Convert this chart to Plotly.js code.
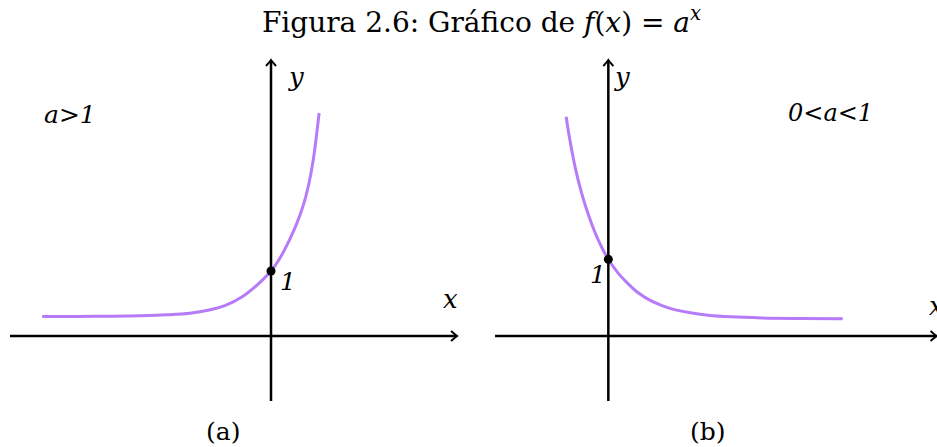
<!DOCTYPE html>
<html>
<head>
<meta charset="utf-8">
<script src="https://cdn.plot.ly/plotly-3.0.1.min.js"></script>
<style>html,body{margin:0;padding:0;background:#fff}</style>
</head>
<body>
<div id="chart" style="width:937px;height:447px"></div>
<script>
// Panel (a): a > 1, increasing curve
const growthX = [-3.52, -3.0, -2.5, -2.0, -1.6, -1.25, -0.95, -0.7, -0.45, -0.22, 0, 0.15, 0.29, 0.40, 0.50, 0.58, 0.65, 0.74];
const growthY = [0.30, 0.301, 0.303, 0.31, 0.325, 0.35, 0.40, 0.47, 0.60, 0.78, 1.0, 1.22, 1.49, 1.74, 2.02, 2.33, 2.71, 3.43];
// Panel (b): 0 < a < 1, decreasing curve
const decayX = [-0.55, -0.50, -0.43, -0.35, -0.26, -0.17, -0.08, 0, 0.12, 0.24, 0.38, 0.54, 0.70, 0.85, 1.05, 1.3, 1.6, 2.0, 2.5, 3.056];
const decayY = [2.86, 2.55, 2.19, 1.87, 1.58, 1.34, 1.145, 1.0, 0.83, 0.70, 0.57, 0.468, 0.397, 0.347, 0.306, 0.272, 0.25, 0.236, 0.229, 0.226];
// the marked point (0, 1) on each curve
const markX = [0];
const markY = [1];
const caseLabels = ['<i>a&gt;1</i>', '<i>0&lt;a&lt;1</i>'];
const panelTags = ['(a)', '(b)'];
const titleText = 'Figura 2.6: Gráfico de <i>f</i>(<i>x</i>) = <i>a</i><sup><i>x</i></sup>';

const W = 937, H = 447;
const curveColor = '#b67bf9';
const serif = 'DejaVu Serif';

const traces = [
  {x: growthX, y: growthY, xaxis: 'x', yaxis: 'y', mode: 'lines',
   line: {color: curveColor, width: 3, shape: 'spline', smoothing: 1}, hoverinfo: 'skip'},
  {x: decayX, y: decayY, xaxis: 'x2', yaxis: 'y2', mode: 'lines',
   line: {color: curveColor, width: 3, shape: 'spline', smoothing: 1}, hoverinfo: 'skip'},
  {x: markX, y: markY, xaxis: 'x', yaxis: 'y', mode: 'markers',
   marker: {color: '#000', size: 9}, hoverinfo: 'skip'},
  {x: markX, y: markY, xaxis: 'x2', yaxis: 'y2', mode: 'markers',
   marker: {color: '#000', size: 9}, hoverinfo: 'skip'}
];

const axLine = {color: '#000', width: 2.5};
const headLine = {color: '#000', width: 2};
const rightHead = 'M-6,5 Q-1.5,1 0,0 Q-1.5,-1 -6,-5';
const upHead = 'M-5,-6 Q-1,-1.5 0,0 Q1,-1.5 5,-6';

function arrowHead(xr, yr, x, y, path) {
  return {type: 'path', xref: xr, yref: yr, xsizemode: 'pixel', ysizemode: 'pixel',
          xanchor: x, yanchor: y, path: path, line: headLine};
}

const shapes = [
  // panel (a) axes
  {type: 'line', xref: 'x', yref: 'y', x0: -4.015, x1: 2.862, y0: 0, y1: 0, line: axLine},
  {type: 'line', xref: 'x', yref: 'y', x0: 0, x1: 0, y0: -1.0, y1: 4.246, line: axLine},
  arrowHead('x', 'y', 2.862, 0, rightHead),
  arrowHead('x', 'y', 0, 4.246, upHead),
  // panel (b) axes
  {type: 'line', xref: 'x2', yref: 'y2', x0: -1.477, x1: 4.279, y0: 0, y1: 0, line: axLine},
  {type: 'line', xref: 'x2', yref: 'y2', x0: 0, x1: 0, y0: -0.847, y1: 3.598, line: axLine},
  arrowHead('x2', 'y2', 4.279, 0, rightHead),
  arrowHead('x2', 'y2', 0, 3.598, upHead)
];

function label(text, px, py, size, xanchor, italic) {
  return {text: italic ? '<i>' + text + '</i>' : text, xref: 'paper', yref: 'paper',
          x: px / W, y: 1 - py / H, xanchor: xanchor || 'center', yanchor: 'middle',
          showarrow: false, font: {family: serif, size: size, color: '#000'}};
}

const annotations = [
  label(caseLabels[0], 70, 114, 25),
  label(caseLabels[1], 830, 113, 24),
  label('y', 296, 77, 26, 'center', true),
  label('y', 621.5, 77, 26, 'center', true),
  label('1', 288, 281, 25, 'center', true),
  label('1', 598, 274, 25, 'center', true),
  label('x', 450, 299, 26, 'center', true),
  label('x', 927, 306, 26, 'left', true),
  label(panelTags[0], 223, 431, 25),
  label(panelTags[1], 708, 431, 25)
];

const hidden = {visible: false, fixedrange: true, showgrid: false, zeroline: false};

const layout = {
  width: W, height: H,
  margin: {l: 0, r: 0, t: 0, b: 0},
  paper_bgcolor: '#fff', plot_bgcolor: '#fff',
  showlegend: false,
  font: {family: serif},
  title: {text: titleText, x: 481.5 / W, xanchor: 'center', xref: 'paper',
          y: 1 - 22 / H, yanchor: 'middle', yref: 'container',
          font: {family: serif, size: 28, color: '#000'}},
  xaxis: Object.assign({domain: [0, 0.5], range: [-4.169, 3.038], anchor: 'y'}, hidden),
  yaxis: Object.assign({domain: [0, 1], range: [-1.708, 5.169], anchor: 'x'}, hidden),
  xaxis2: Object.assign({domain: [0.5, 1], range: [-1.823, 4.285], anchor: 'y2'}, hidden),
  yaxis2: Object.assign({domain: [0, 1], range: [-1.447, 4.381], anchor: 'x2'}, hidden),
  shapes: shapes,
  annotations: annotations
};

Plotly.newPlot('chart', traces, layout, {staticPlot: true, displayModeBar: false});
</script>
</body>
</html>
